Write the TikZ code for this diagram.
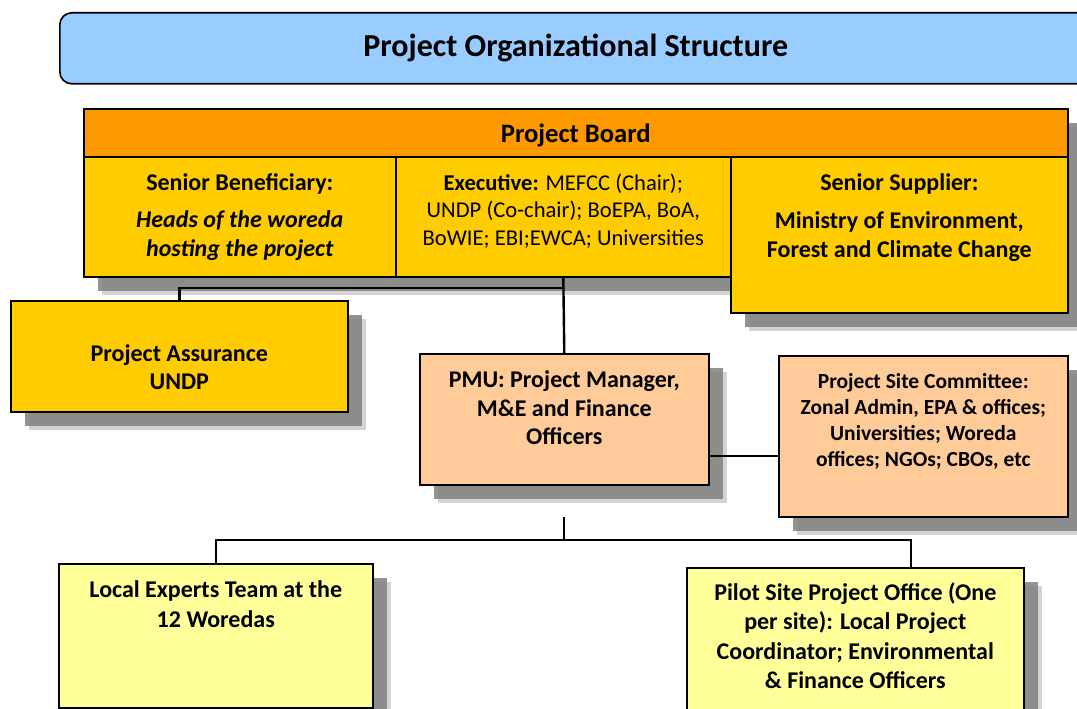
\documentclass[tikz,border=0pt]{standalone}
\usepackage{fontspec}
\setmainfont{Carlito}
\usetikzlibrary{positioning,shadows}
\definecolor{titleblue}{HTML}{99CCFF}
\definecolor{boardorange}{HTML}{FF9900}
\definecolor{gold}{HTML}{FFCC00}
\definecolor{peach}{HTML}{FFCC99}
\definecolor{paleyellow}{HTML}{FFFF99}
\definecolor{shadowgray}{HTML}{808080}

\begin{document}
\begin{tikzpicture}[x=1pt, y=-1pt, line width=1.6pt,
    box/.style = {draw, rectangle, anchor=north west, inner sep=0pt},
    boxshadow/.style = {drop shadow={shadow xshift=18pt, shadow yshift=-18pt, fill=shadowgray, opacity=.35},
                        drop shadow={shadow xshift=14pt, shadow yshift=-14pt, fill=shadowgray, opacity=.85}},
    txt/.style = {align=center, inner sep=0pt, font=\bfseries\fontsize{24}{29}\selectfont},
    link/.style = {line width=2.4pt}]

    \useasboundingbox (0,0) rectangle (1077,709);

    \node[box, fill=titleblue, rounded corners=12pt, minimum width=1032, minimum height=71,
          font=\bfseries\fontsize{32}{36}\selectfont] (title) at (59,12) {Project Organizational Structure};

    \node[box, boxshadow, fill=boardorange, minimum width=984, minimum height=48, text depth=0pt,
          font=\bfseries\fontsize{26.6}{30}\selectfont] (board) at (83,108) {Project Board};
    \node[box, boxshadow, fill=gold, minimum width=312, minimum height=120, txt] (benef) at (83,156)
        {Senior Beneficiary:\\[8pt] \itshape Heads of the woreda\\ \itshape hosting the project};
    \node[box, boxshadow, fill=gold, minimum width=335, minimum height=120] (exec) at (395,156) {};
    \node[txt, below=17pt of exec.north, font=\fontsize{22.6}{27.5}\selectfont] (exectxt)
        {\textbf{Executive:} MEFCC (Chair);\\ UNDP (Co-chair); BoEPA, BoA,\\ BoWIE; EBI;EWCA; Universities};
    \node[box, boxshadow, fill=gold, minimum width=337, minimum height=156] (supplier) at (730,156) {};
    \node[txt, below=17pt of supplier.north] (suppliertxt)
        {Senior Supplier:\\[9pt] Ministry of Environment,\\ Forest and Climate Change};

    \node[box, boxshadow, fill=gold, minimum width=337, minimum height=111] (assure) at (10,300) {};
    \node[txt, below=44pt of assure.north, font=\bfseries\fontsize{24}{28}\selectfont] (assuretxt)
        {Project Assurance\\ UNDP};

    \node[box, boxshadow, fill=peach, minimum width=289, minimum height=131] (pmu) at (419,353) {};
    \node[txt, below=17pt of pmu.north, font=\bfseries\fontsize{24}{28.5}\selectfont] (pmutxt)
        {PMU: Project Manager,\\ M\&E and Finance\\ Officers};

    \node[box, boxshadow, fill=peach, minimum width=289, minimum height=161] (committee) at (778,355) {};
    \node[txt, below=18pt of committee.north, font=\bfseries\fontsize{21.5}{26}\selectfont] (committeetxt)
        {Project Site Committee:\\ Zonal Admin, EPA \& offices;\\ Universities; Woreda\\ offices; NGOs; CBOs, etc};

    \node[box, boxshadow, fill=paleyellow, minimum width=314, minimum height=144] (local) at (58,563) {};
    \node[txt, below=17pt of local.north, font=\bfseries\fontsize{24}{30}\selectfont] (localtxt)
        {Local Experts Team at the\\ 12 Woredas};

    \node[box, boxshadow, fill=paleyellow, minimum width=337, minimum height=160] (pilot) at (686,567) {};
    \node[txt, below=15pt of pilot.north, font=\bfseries\fontsize{24}{29.3}\selectfont] (pilottxt)
        {Pilot Site Project Office (One\\ per site): Local Project\\ Coordinator; Environmental\\ \& Finance Officers};

    \coordinate (boardjoin) at (exec.south |- 0,288);
    \coordinate (pmutail) at (pmu.south |- 0,517);
    \coordinate (split) at (pmu.south |- 0,540);

    \draw[link] (exec.south) -- (pmu.north);
    \draw[link] (assure.north) |- (boardjoin);
    \draw[line width=1.8pt] (pmu.east |- 0,456) -- (committee.west |- 0,456);
    \draw[line width=1.8pt] (pmutail) -- (split);
    \draw[line width=2.2pt] (local.north) |- (split) -| ([xshift=55.5pt]pilot.north);
\end{tikzpicture}
\end{document}
